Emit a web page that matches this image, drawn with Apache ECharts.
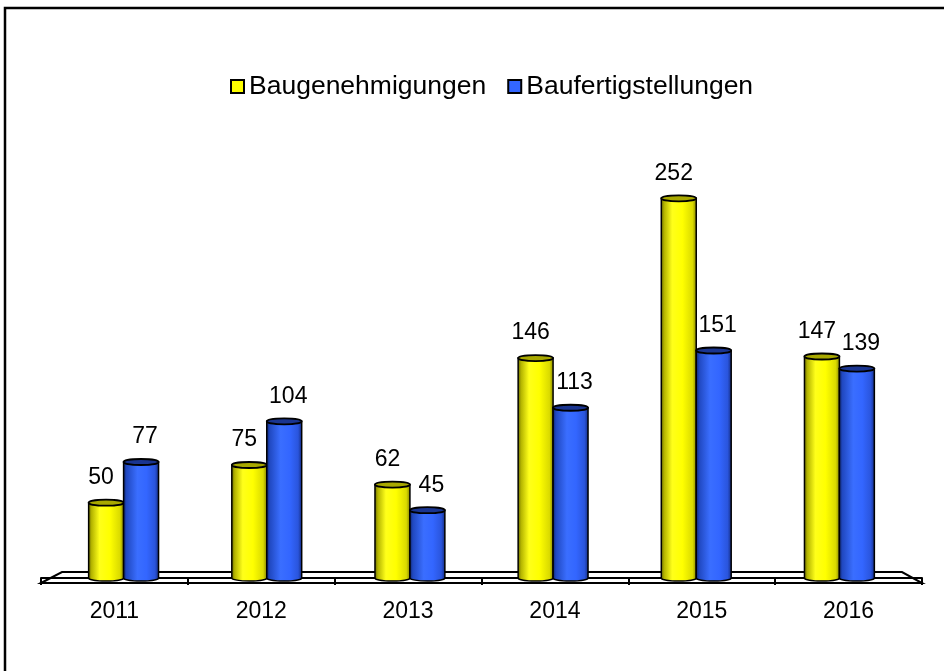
<!DOCTYPE html>
<html>
<head>
<meta charset="utf-8">
<script src="https://cdn.jsdelivr.net/npm/echarts@6/dist/echarts.min.js"></script>
<style>
  html, body { margin: 0; padding: 0; background: #fff; }
  #chart { width: 944px; height: 671px; }
</style>
</head>
<body>
<div id="chart"></div>
<script>
// Werte
const years = ['2011', '2012', '2013', '2014', '2015', '2016'];
const genehmigungen = [50, 75, 62, 146, 252, 147];
const fertigstellungen = [77, 104, 45, 113, 151, 139];

const FONT = '"Liberation Sans", Arial, sans-serif';
const GRID = { left: 41, right: 22, top: 126, bottom: 93 };

// zylinder: side -1 = linke Säule, +1 = rechte Säule
function cylinder(side, body, cap, labelDx) {
	return function (params, api) {
		const cat = api.value(0);
		const val = api.value(1);
		const top = api.coord([cat, val]);
		const base = api.coord([cat, 0]);
		const band = api.size([1, 0])[0];
		const cs = params.coordSys;
		const mid = cs.x + cs.width / 2;
		// leichte Perspektive zur Mitte hin
		const pairX = mid + (top[0] - mid) * 0.975;
		const w = band * 0.238;
		const x0 = side < 0 ? pairX - w : pairX;
		const ry = 3;
		const path = 'M' + x0 + ' ' + top[1] +
			' L' + x0 + ' ' + base[1] +
			' A' + (w / 2) + ' ' + ry + ' 0 0 0 ' + (x0 + w) + ' ' + base[1] +
			' L' + (x0 + w) + ' ' + top[1] + ' Z';
		return {
			type: 'group',
			children: [
				{
					type: 'path',
					shape: { pathData: path },
					style: {
						fill: {
							type: 'linear', x: 0, y: 0, x2: 1, y2: 0,
							colorStops: body
						},
						stroke: '#000',
						lineWidth: 1.5
					}
				},
				{
					type: 'ellipse',
					shape: { cx: x0 + w / 2, cy: top[1], rx: w / 2, ry: ry },
					style: { fill: cap, stroke: '#000', lineWidth: 1.8 }
				},
				{
					type: 'text',
					style: {
						text: String(val),
						x: x0 + w / 2 + labelDx,
						y: top[1] - 25,
						align: 'center',
						verticalAlign: 'middle',
						font: '23px ' + FONT,
						fill: '#000'
					}
				}
			]
		};
	};
}

const yellowBody = [
	{ offset: 0, color: '#5c5c00' },
	{ offset: 0.1, color: '#b4b400' },
	{ offset: 0.32, color: '#ffff1a' },
	{ offset: 0.6, color: '#ffff00' },
	{ offset: 0.88, color: '#dada00' },
	{ offset: 1, color: '#7a7a00' }
];
const blueBody = [
	{ offset: 0, color: '#0c1f5e' },
	{ offset: 0.1, color: '#2048c0' },
	{ offset: 0.4, color: '#3a6eff' },
	{ offset: 0.65, color: '#3366ff' },
	{ offset: 0.88, color: '#2a55dd' },
	{ offset: 1, color: '#12287a' }
];

const chart = echarts.init(document.getElementById('chart'));

const fl = GRID.left, fr = 944 - GRID.right;
const option = {
	animation: false,
	backgroundColor: '#fff',
	legend: {
		left: 230,
		top: 73,
		padding: 0,
		icon: 'rect',
		itemWidth: 13,
		itemHeight: 13,
		itemGap: 21,
		textStyle: { fontFamily: FONT, fontSize: 26.5, color: '#000' },
		itemStyle: { borderColor: '#000', borderWidth: 2 },
		data: ['Baugenehmigungen', 'Baufertigstellungen']
	},
	grid: GRID,
	xAxis: {
		type: 'category',
		data: years,
		offset: 5,
		axisLine: { show: true, lineStyle: { color: '#000', width: 2 } },
		axisTick: { show: true, interval: 0, inside: false, length: 7, lineStyle: { color: '#000', width: 2 } },
		axisLabel: { margin: 17, fontFamily: FONT, fontSize: 23, color: '#000' }
	},
	yAxis: {
		type: 'value',
		min: 0,
		max: 300,
		show: false
	},
	graphic: [
		{
			type: 'polygon',
			z: 0,
			shape: { points: [[fl, 583], [fl + 21, 572], [fr - 20, 572], [fr, 583]] },
			style: { fill: '#fff', stroke: '#000', lineWidth: 2 }
		},
		{
			type: 'rect',
			z: 10,
			shape: { x: 5, y: 8, width: 960, height: 700 },
			style: { fill: 'none', stroke: '#000', lineWidth: 2.5 }
		}
	],
	series: [
		{
			name: 'Baugenehmigungen',
			type: 'custom',
			z: 3,
			itemStyle: { color: '#ffff00' },
			renderItem: cylinder(-1, yellowBody, '#a8a800', -5),
			encode: { x: 0, y: 1 },
			data: genehmigungen.map((v, i) => [i, v])
		},
		{
			name: 'Baufertigstellungen',
			type: 'custom',
			z: 3,
			itemStyle: { color: '#3366ff' },
			renderItem: cylinder(1, blueBody, '#1a3590', 4),
			encode: { x: 0, y: 1 },
			data: fertigstellungen.map((v, i) => [i, v])
		}
	]
};
chart.setOption(option);
</script>
</body>
</html>
